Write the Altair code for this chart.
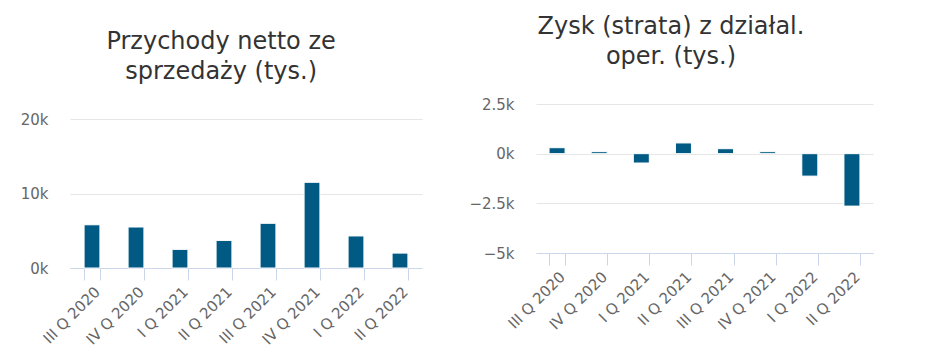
import altair as alt
import pandas as pd

quarters = ["III Q 2020", "IV Q 2020", "I Q 2021", "II Q 2021",
            "III Q 2021", "IV Q 2021", "I Q 2022", "II Q 2022"]
revenue = [5800, 5500, 2500, 3700, 6000, 11500, 4300, 2000]
op_profit = [300, 100, -470, 540, 250, 100, -1130, -2640]

revenue_title = ["Przychody netto ze", "sprzedaży (tys.)"]
profit_title = ["Zysk (strata) z działal.", "oper. (tys.)"]
revenue_ticks = [0, 10000, 20000]
profit_ticks = [-5000, -2500, 0, 2500]

FONT = "DejaVu Sans"
BAR = "#005a83"
LABEL_EXPR = "(datum.value < 0 ? '\u2212' : '') + abs(datum.value) / 1000 + 'k'"


def panel(values, title, domain, ticks, width, pad_inner):
    df = pd.DataFrame({"q": quarters, "v": values})
    return (
        alt.Chart(
            df,
            title=alt.TitleParams(
                title, anchor="middle", frame="bounds", font=FONT, fontSize=24,
                fontWeight="normal", color="#333333", lineHeight=30, offset=28,
            ),
        )
        .mark_bar(color=BAR, stroke="white", strokeWidth=1)
        .encode(
            x=alt.X(
                "q:N", sort=quarters, title=None,
                scale=alt.Scale(paddingInner=pad_inner, paddingOuter=pad_inner / 2),
                axis=alt.Axis(
                    labelAngle=-45, tickBand="extent", tickSize=12,
                    tickColor="#ccd6eb", domainColor="#ccd6eb", grid=False,
                    labelPadding=4, labelFont=FONT, labelFontSize=15,
                    labelColor="#666666",
                ),
            ),
            y=alt.Y(
                "v:Q", title=None,
                scale=alt.Scale(domain=domain, nice=False),
                axis=alt.Axis(
                    values=ticks, labelExpr=LABEL_EXPR, domain=False, ticks=False,
                    gridColor="#e6e6e6", labelPadding=22, labelFont=FONT,
                    labelFontSize=15, labelColor="#666666",
                ),
            ),
        )
        .properties(width=width, height=149)
    )


def spacer(h):
    return (
        alt.Chart(pd.DataFrame({"a": [0]}))
        .mark_point(opacity=0, size=0)
        .encode(x=alt.value(0), y=alt.value(0))
        .properties(width=1, height=h)
    )


left = panel(revenue, revenue_title, [0, 20000], revenue_ticks, 352, 0.64)
right = panel(op_profit, profit_title, [-5000, 2500], profit_ticks, 337, 0.62)

chart = (
    alt.hconcat(
        alt.vconcat(spacer(16), left, spacing=0),
        alt.vconcat(spacer(1), right, spacing=0),
        spacing=46,
    )
    .properties(padding={"left": 12, "top": 6, "right": 5, "bottom": 0})
    .configure_view(strokeWidth=0)
)

chart.save("out.html", embed_options={"renderer": "svg", "actions": False})
